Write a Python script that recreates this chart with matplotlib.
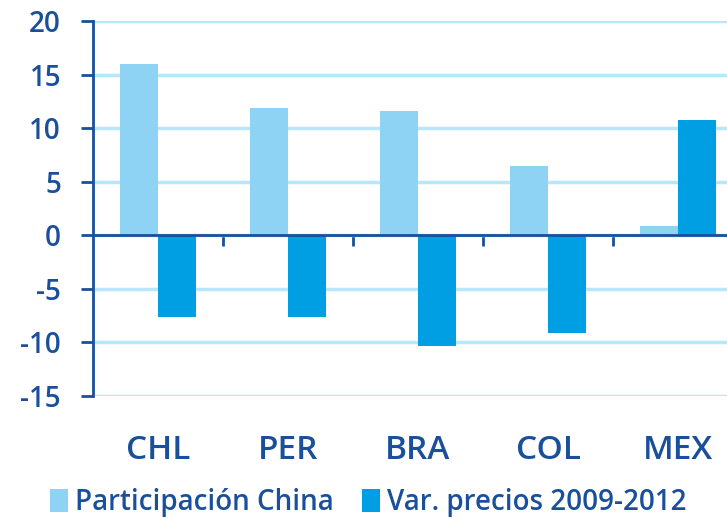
import matplotlib
matplotlib.use("Agg")
import matplotlib.pyplot as plt
import numpy as np

# datos
paises = ["CHL", "PER", "BRA", "COL", "MEX"]
participacion_china = [16.0, 11.9, 11.6, 6.5, 0.9]
var_precios = [-7.6, -7.6, -10.3, -9.1, 10.8]
series = ["Participación China", "Var. precios 2009-2012"]

azul_claro = "#8ED3F3"
azul = "#009FE3"
azul_texto = "#1A4F9C"
grid_color = "#B8E6FA"

plt.rcParams['font.family'] = ['Open Sans', 'DejaVu Sans']
plt.rcParams['font.weight'] = 'semibold'
plt.rcParams['axes.unicode_minus'] = False

fig = plt.figure(figsize=(7.27, 5.19), dpi=100)
ax = fig.add_axes([0.128, 0.237, 0.894, 0.7225])

x = np.arange(len(paises))
w = 0.29
ax.bar(x - w / 2, participacion_china, w, color=azul_claro, label=series[0], zorder=3)
ax.bar(x + w / 2, var_precios, w, color=azul, label=series[1], zorder=3)

ax.set_xlim(-0.5, len(paises) - 0.5)
ax.set_ylim(-15, 20)
ax.set_yticks(np.arange(-15, 21, 5))
ax.yaxis.grid(True, color=grid_color, linewidth=2.5, zorder=0)
ax.tick_params(axis="y", length=9, width=2, color=azul_texto, labelsize=20,
               labelcolor=azul_texto, pad=14)

for s in ["top", "right"]:
    ax.spines[s].set_visible(False)
ax.spines["left"].set_color(azul_texto)
ax.spines["left"].set_linewidth(2)
ax.spines["bottom"].set_position(("data", 0))
ax.spines["bottom"].set_color(azul_texto)
ax.spines["bottom"].set_linewidth(2)
ax.spines["bottom"].set_zorder(4)

ax.set_xticks(x[:-1] + 0.5)
ax.set_xticklabels([])
ax.tick_params(axis="x", direction="out", length=8, width=2, color=azul_texto)

for i, p in enumerate(paises):
    ax.text(i, -20.1, p, ha="center", va="center", fontsize=24,
            color=azul_texto, clip_on=False)

fig.legend(loc="lower left", bbox_to_anchor=(0.054, -0.018), ncol=2, frameon=False,
           fontsize=20, handlelength=0.65, handleheight=0.9, handletextpad=0.25,
           columnspacing=1.0, labelcolor=azul_texto, borderaxespad=0)

fig.savefig("out.png", dpi=100)
